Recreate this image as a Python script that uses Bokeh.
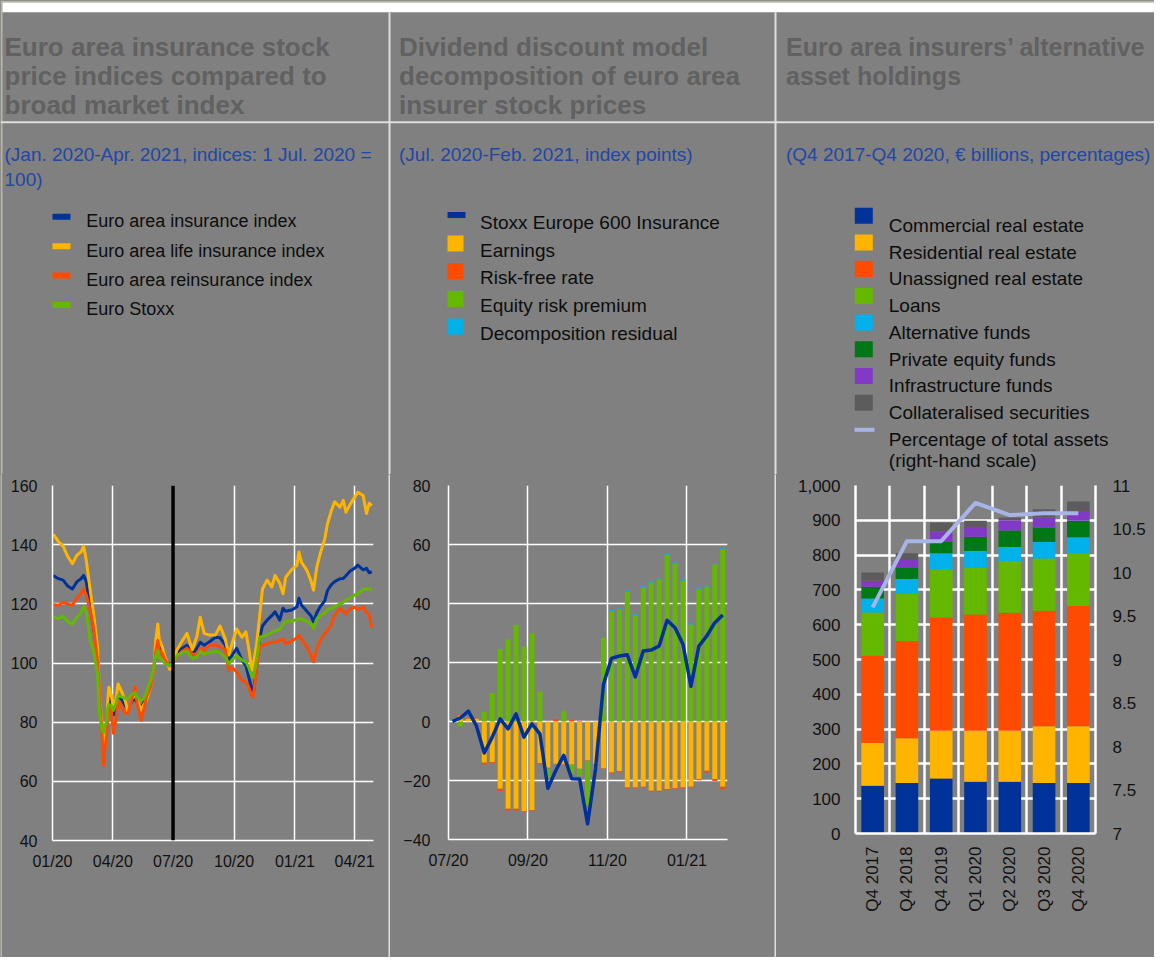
import math
import numpy as np
import pandas as pd
from bokeh.plotting import figure
from bokeh.layouts import row, column
from bokeh.models import (Range1d, LinearAxis, FixedTicker, DatetimeTickFormatter,
                          NumeralTickFormatter, Span, ColumnDataSource)
from bokeh.core.properties import value
from bokeh.embed import file_html
from bokeh.resources import INLINE

# ---------------------------------------------------------------- data: panel 1
p1_dates = [
    "2020-01-02", "2020-01-10", "2020-01-17", "2020-01-24", "2020-01-31", "2020-02-07", "2020-02-13",
    "2020-02-17", "2020-02-21", "2020-02-27", "2020-03-03", "2020-03-09", "2020-03-12", "2020-03-16",
    "2020-03-18", "2020-03-19", "2020-03-23", "2020-03-24", "2020-03-26", "2020-03-30", "2020-04-02",
    "2020-04-06", "2020-04-09", "2020-04-15", "2020-04-20", "2020-04-24", "2020-04-30", "2020-05-05",
    "2020-05-08", "2020-05-14", "2020-05-18", "2020-05-22", "2020-05-28", "2020-06-02", "2020-06-05",
    "2020-06-08", "2020-06-10", "2020-06-15", "2020-06-18", "2020-06-22", "2020-06-26", "2020-07-01",
    "2020-07-07", "2020-07-15", "2020-07-22", "2020-07-30", "2020-08-06", "2020-08-11", "2020-08-17",
    "2020-08-24",
    "2020-09-03", "2020-09-10", "2020-09-18", "2020-09-23", "2020-09-28", "2020-10-05", "2020-10-13",
    "2020-10-19", "2020-10-23", "2020-10-28", "2020-10-30", "2020-11-04", "2020-11-09", "2020-11-13",
    "2020-11-20", "2020-11-27", "2020-12-02", "2020-12-09", "2020-12-14", "2020-12-18", "2020-12-28",
    "2021-01-04", "2021-01-07", "2021-01-11", "2021-01-19", "2021-01-25", "2021-01-29", "2021-02-03",
    "2021-02-08", "2021-02-15", "2021-02-19", "2021-02-25", "2021-03-02", "2021-03-10", "2021-03-15",
    "2021-03-19", "2021-03-25", "2021-04-01", "2021-04-06", "2021-04-14", "2021-04-19", "2021-04-23",
    "2021-04-27",
]
p1_insurance = [
    129.6, 128.5, 128.0, 126.0, 125.0, 127.5, 128.5, 129.6, 127.5, 118.9, 112.1, 103.1, 88.5, 78.0,
    72.5, 74.0, 78.5, 84.5, 88.0, 86.0, 82.5, 85.5, 89.0, 87.5, 85.5, 84.5, 87.0, 88.0,
    86.5, 85.0, 86.5, 88.5, 92.5, 98.0, 105.0, 109.0, 106.0, 103.0, 102.0, 100.5, 99.5, 100.0,
    103.5, 105.0, 106.0, 103.0, 105.0, 107.0, 106.0, 107.0,
    108.7, 108.5, 106.0, 101.0, 102.5, 105.0, 101.0, 99.0, 95.5, 91.0, 89.6, 98.6, 108.7, 112.5,
    114.5, 116.0, 117.3, 114.5, 118.5, 117.5, 118.0, 119.0, 121.9, 119.5, 117.5, 116.0, 114.0, 117.0,
    119.0, 121.0, 124.5, 126.5, 127.5, 128.5, 128.6, 129.5, 131.0, 132.0, 133.1, 131.5, 132.0, 130.5,
    130.9,
]
p1_life = [
    143.6, 141.0, 139.5, 136.0, 133.6, 136.5, 137.5, 139.5, 134.7, 124.5, 116.6, 105.3, 89.6, 79.0,
    71.0, 72.0, 79.0, 86.0, 91.8, 89.0, 84.5, 88.0, 92.9, 90.0, 87.0, 83.5, 88.0, 89.0,
    87.5, 84.0, 86.0, 87.5, 91.8, 98.0, 108.0, 113.2, 108.0, 105.3, 102.5, 100.5, 97.8, 100.0,
    104.5, 107.5, 110.0, 104.5, 109.0, 115.5, 110.0, 109.5,
    109.5, 112.5, 108.0, 102.7, 106.5, 111.5, 108.7, 110.5, 105.3, 97.5, 99.5, 106.0, 116.6, 125.0,
    128.0, 125.7, 129.6, 127.0, 123.4, 129.0, 131.8, 133.0, 137.5, 134.0, 131.3, 127.9, 124.6, 132.4,
    136.9, 141.9, 147.0, 151.5, 154.5, 152.7, 155.0, 151.0, 153.5, 156.0, 157.7, 156.6, 150.5, 154.0,
    153.2,
]
p1_reinsurance = [
    119.8, 119.5, 120.5, 120.0, 119.5, 122.0, 123.5, 125.0, 123.0, 117.7, 112.1, 100.8, 89.6, 75.0,
    65.5, 69.0, 76.0, 82.0, 85.5, 83.5, 76.2, 81.0, 87.3, 85.0, 83.0, 82.9, 88.0, 92.0,
    86.0, 80.6, 84.5, 88.5, 91.8, 98.6, 104.0, 107.6, 104.5, 103.0, 101.5, 100.0, 99.0, 100.0,
    102.0, 104.0, 105.0, 103.0, 103.0, 105.0, 104.0, 106.0,
    106.0, 105.5, 104.5, 97.5, 98.5, 97.0, 94.1, 93.5, 92.0, 89.0, 88.5, 98.0, 105.3, 106.0,
    106.5, 107.0, 107.0, 107.6, 108.2, 106.5, 107.5, 108.5, 109.4, 108.0, 105.5, 102.7, 100.4, 104.8,
    107.6, 110.0, 111.0, 113.0, 116.2, 118.5, 117.5, 116.6, 118.3, 118.9, 118.0, 119.0, 117.0, 116.5,
    112.0,
]
p1_euro_stoxx = [
    115.5, 115.0, 115.8, 114.0, 113.0, 115.5, 117.0, 119.0, 117.5, 107.6, 104.2, 96.3, 82.9, 77.3,
    76.5, 78.0, 80.5, 84.5, 86.0, 85.5, 84.0, 86.5, 89.0, 88.5, 88.0, 88.0, 89.5, 90.0,
    88.5, 87.3, 88.0, 90.0, 94.1, 98.6, 102.5, 104.2, 102.0, 101.0, 100.0, 99.5, 99.1, 100.0,
    102.5, 103.5, 104.0, 101.5, 102.0, 104.0, 103.0, 103.5,
    104.0, 103.5, 102.0, 99.7, 101.0, 102.6, 101.0, 100.3, 98.6, 95.5, 95.2, 101.0, 108.7, 109.0,
    109.5, 110.3, 110.9, 111.5, 113.0, 114.0, 114.3, 114.5, 115.1, 114.8, 114.0, 113.2, 111.7, 114.9,
    116.0, 116.8, 118.0, 118.5, 119.0, 120.0, 120.5, 121.2, 121.9, 123.0, 123.4, 124.8, 125.1, 125.1,
    124.6,
]
p1_tick_dates = ["2020-01-01", "2020-04-01", "2020-07-01", "2020-10-01", "2021-01-01", "2021-04-01"]
p1_base_date = "2020-07-01"
p1_start, p1_end = "2020-01-01", "2021-04-29 14:00"
p1_yticks = [40, 60, 80, 100, 120, 140, 160]

# ---------------------------------------------------------------- data: panel 2
p2_obs = list(range(35))
p2_earnings = [0, 2.0, 0.9, 1.0, -14.0, -13.8, -22.8, -29.6, -29.6, -30.4, -30.1, -14.1, -15.7, -14.3,
               -14.6, -14.6, -16.0, -13.2, -14.5, -15.9, -17.3, -16.9, -22.4, -22.4, -22.1, -23.5,
               -23.5, -22.9, -22.6, -22.4, -22.1, -19.5, -16.7, -19.5, -22.1]
p2_risk_free = [0, 0.3, 0.2, 0.3, -0.6, -0.3, -0.8, -0.6, -0.6, -0.3, -0.2, -0.2, -0.2, 0.8, -0.2,
                0.6, 0.2, -0.2, -0.3, -0.2, -0.3, -0.3, -0.3, -0.3, -0.3, -0.3, -0.3, -0.3, -0.3,
                -0.3, -0.3, -0.4, -0.6, -0.7, -0.9]
p2_equity_premium = [0, -1.6, 0, 0, 3.2, 9.7, 24.6, 27.8, 32.7, 25.4, 29.9, 10.2, -3.2, 0, 3.5, -3.2,
                     -2.6, -15.0, -1.5, 28.4, 37.4, 38.0, 43.9, 36.2, 45.6, 47.2, 48.2, 56.5, 53.6,
                     47.8, 32.9, 45.0, 45.8, 53.3, 58.4]
p2_residual = [0, 0, 0, 0, 0, 0, 0, 0, 0, 0, 0, 0, 0, 0, 0, 0, 0, 0, 0, 0,
               0.4, 0.3, 0.5, 0.4, 0.4, 0.4, 0.3, 0.5, 0.3, 0.4, 0.4, 0.3, 0.2, 0.2, 0.3]
p2_stoxx_insurance = [0, 1.2, 3.5, -1.4, -10.7, -5.3, 0.9, -2.5, 2.6, -5.3, -0.8, -4.2, -22.6, -16.6,
                      -11.5, -19.4, -19.5, -34.7, -16.0, 12.6, 21.4, 22.2, 22.6, 15.1, 23.9, 24.2,
                      25.6, 34.3, 31.8, 26.2, 11.9, 25.6, 29.0, 33.5, 36.1]
p2_tick_pos = [-0.5, 9.5, 19.5, 29.5]
p2_tick_labels = ["07/20", "09/20", "11/20", "01/21"]
p2_yticks = [-40, -20, 0, 20, 40, 60, 80]

# ---------------------------------------------------------------- data: panel 3
p3_quarters = ["Q4 2017", "Q4 2018", "Q4 2019", "Q1 2020", "Q2 2020", "Q3 2020", "Q4 2020"]
p3_commercial = [137, 145, 158, 149, 149, 145, 145]
p3_residential = [123, 129, 137, 146, 146, 163, 163]
p3_unassigned = [251, 279, 326, 334, 339, 332, 346]
p3_loans = [124, 135, 136, 134, 149, 150, 151]
p3_alternative_funds = [40, 43, 48, 49, 40, 48, 46]
p3_private_equity = [34, 32, 33, 41, 48, 41, 48]
p3_infrastructure = [17, 23, 30, 28, 29, 29, 28]
p3_collateralised = [24, 19, 26, 18, 8, 24, 27]
p3_pct_total_assets = [9.60, 10.36, 10.36, 10.80, 10.66, 10.68, 10.68]
p3_yticks = [0, 100, 200, 300, 400, 500, 600, 700, 800, 900, 1000]
p3_rticks = [7, 7.5, 8, 8.5, 9, 9.5, 10, 10.5, 11]

# ---------------------------------------------------------------- styles / layout
BG = "#808080"
FONT = "Liberation Sans"
TICK_C = "#111111"
TITLE_C = "#616161"
SUB_C = "#2347a5"
LEG_C = "#0d0d0d"
DIV_C = "#dedede"
EDGE_C = "#b4b7a4"
BLUE, YELLOW, ORANGE, GREEN = "#003299", "#ffb400", "#ff4b00", "#65b800"
CYAN, DKGREEN, PURPLE, DGREY, LAVENDER = "#00b1ea", "#007816", "#8139c6", "#5c5c5c", "#a8b4e6"
TOTAL_W = 1154
TOTAL_H = 957
HEAD_H = 474
CHART_H = TOTAL_H - HEAD_H
TOP_B = 485 - HEAD_H
W0, W1, W2, W3 = 2, 386, 384, 378     # left edge strip + chart columns, separated by 2 px dividers
X1 = W0 + W1                           # divider 1 starts here
X2 = X1 + 2 + W2                       # divider 2 starts here
CSS = {"background-color": BG}


def prep(p):
    try:
        p.frame_align = False
    except Exception:
        pass
    p.styles = CSS
    return p


# ---------------------------------------------------------------- header (titles, legends)
head = prep(figure(width=TOTAL_W, height=HEAD_H, x_range=Range1d(0, TOTAL_W),
                   y_range=Range1d(HEAD_H, 0), min_border=0, toolbar_location=None,
                   output_backend="svg", background_fill_color=BG, border_fill_color=BG,
                   outline_line_color=None, x_axis_location=None, y_axis_location=None))
head.grid.visible = False
head.quad(left=[0, 0, W0, 0, X1, X2], right=[TOTAL_W, W0, TOTAL_W, TOTAL_W, X1 + 2, X2 + 2],
          top=[0, 0, 2, 120.7, 11.7, 11.7], bottom=[2, HEAD_H, 11.7, 122.7, HEAD_H, HEAD_H],
          fill_color=[EDGE_C, EDGE_C, "white", DIV_C, DIV_C, DIV_C], line_color=None)


def htext(xs, ys, texts, size, color, bold=False):
    head.text(x=xs, y=ys, text=texts, text_font=value(FONT), text_font_size=value(size),
              text_font_style=value("bold" if bold else "normal"), text_color=color,
              text_baseline=value("alphabetic"), text_align=value("left"))


def hbox(x0, x1, y0, y1, color):
    head.quad(left=[x0], right=[x1], top=[y0], bottom=[y1], fill_color=color, line_color=None)


def header_titles(X, title_lines, sub_lines, tsize="26px"):
    htext([X] * len(title_lines), [46 + 29 * i for i in range(len(title_lines))],
          title_lines, tsize, TITLE_C, bold=True)
    htext([X] * len(sub_lines), [154 + 25 * i for i in range(len(sub_lines))],
          sub_lines, "19px", SUB_C)


def make_strip(width, color):
    d = prep(figure(width=width, height=CHART_H, x_range=Range1d(0, 1), y_range=Range1d(0, 1),
                    min_border=0, toolbar_location=None, output_backend="svg",
                    background_fill_color=color, border_fill_color=color,
                    outline_line_color=None, x_axis_location=None, y_axis_location=None))
    d.grid.visible = False
    return d


def make_chart(width, b_left, b_right, b_bottom, x_range, y_range, **kw):
    return prep(figure(width=width, height=CHART_H, x_range=x_range, y_range=y_range,
                       min_border_left=b_left, min_border_right=b_right, min_border_top=TOP_B,
                       min_border_bottom=b_bottom, toolbar_location=None, output_backend="svg",
                       background_fill_color=BG, border_fill_color=BG, outline_line_color=None,
                       **kw))


def style_axes(p, size, grid_w, axis_w):
    for ax in p.axis:
        ax.axis_line_color = "white"
        ax.axis_line_width = axis_w
        ax.major_tick_line_color = None
        ax.minor_tick_line_color = None
        ax.major_tick_out = 0
        ax.major_tick_in = 0
        ax.minor_tick_out = 0
        ax.minor_tick_in = 0
        ax.major_label_text_font = FONT
        ax.major_label_text_font_size = size
        ax.major_label_text_color = TICK_C
    for gr in p.grid:
        gr.grid_line_color = "white"
        gr.grid_line_width = grid_w


# ================================================================ panel 1
header_titles(4, ["Euro area insurance stock", "price indices compared to", "broad market index"],
              ["(Jan. 2020-Apr. 2021, indices: 1 Jul. 2020 =", "100)"])
p1_series = [("Euro area insurance index", p1_insurance, BLUE),
             ("Euro area life insurance index", p1_life, YELLOW),
             ("Euro area reinsurance index", p1_reinsurance, ORANGE),
             ("Euro Stoxx", p1_euro_stoxx, GREEN)]
for i, (name, vals, col) in enumerate(p1_series):
    yc = 216.3 + 29.4 * i
    hbox(52, 70, yc - 3, yc + 3, col)
htext([85.8] * 4, [216.3 + 29.4 * i + 4.4 for i in range(4)], [s[0] for s in p1_series],
      "18px", LEG_C)

d1 = pd.to_datetime(p1_dates)
p1 = make_chart(W1, 52 - W0, 15, 117, Range1d(pd.Timestamp(p1_start), pd.Timestamp(p1_end)),
                Range1d(p1_yticks[0], p1_yticks[-1]), x_axis_type="datetime")
tick_ms = [pd.Timestamp(d).timestamp() * 1000 for d in p1_tick_dates]
p1.xaxis.ticker = FixedTicker(ticks=tick_ms)
p1.xgrid.ticker = FixedTicker(ticks=tick_ms)
p1.xaxis.formatter = DatetimeTickFormatter(days="%m/%y", months="%m/%y", years="%m/%y")
p1.yaxis.ticker = FixedTicker(ticks=p1_yticks)
p1.ygrid.ticker = FixedTicker(ticks=p1_yticks)
style_axes(p1, "16px", 1.5, 1.5)
p1.yaxis.major_label_standoff = 15
p1.xaxis.major_label_standoff = 12
for name, vals, col in p1_series:
    p1.line(d1, vals, line_color=col, line_width=3, line_join="round")
p1.add_layout(Span(location=pd.Timestamp(p1_base_date).timestamp() * 1000, dimension="height",
                   line_color="black", line_width=3.5))

# ================================================================ panel 2
header_titles(398.5, ["Dividend discount model", "decomposition of euro area", "insurer stock prices"],
              ["(Jul. 2020-Feb. 2021, index points)"])
p2_components = [("Earnings", p2_earnings, YELLOW),
                 ("Risk-free rate", p2_risk_free, ORANGE),
                 ("Equity risk premium", p2_equity_premium, GREEN),
                 ("Decomposition residual", p2_residual, CYAN)]
hbox(447, 465, 211.5, 217.5, BLUE)
for i, (name, vals, col) in enumerate(p2_components):
    yt = 235 + 27.7 * i
    hbox(447, 463, yt, yt + 16, col)
htext([479.5] * 5, [221.7] + [249.5 + 27.7 * i for i in range(4)],
      ["Stoxx Europe 600 Insurance"] + [c[0] for c in p2_components], "19px", LEG_C)

p2 = make_chart(W2, 58, 47, 118, Range1d(-0.5, 34.6), Range1d(p2_yticks[0], p2_yticks[-1]))
p2.xaxis.ticker = FixedTicker(ticks=p2_tick_pos)
p2.xgrid.ticker = FixedTicker(ticks=p2_tick_pos)
p2.xaxis.major_label_overrides = dict(zip(p2_tick_pos, p2_tick_labels))
p2.yaxis.ticker = FixedTicker(ticks=p2_yticks)
p2.ygrid.ticker = FixedTicker(ticks=p2_yticks)
style_axes(p2, "16px", 1.5, 1.5)
p2.yaxis.major_label_standoff = 18
p2.xaxis.major_label_standoff = 12
pos = np.zeros(len(p2_obs))
neg = np.zeros(len(p2_obs))
for name, vals, col in p2_components:
    v = np.asarray(vals, dtype=float)
    bottom = np.where(v >= 0, pos, neg)
    top = bottom + v
    pos = np.where(v >= 0, top, pos)
    neg = np.where(v < 0, top, neg)
    p2.vbar(x=p2_obs, bottom=bottom, top=top, width=0.62, fill_color=col, line_color=None)
p2.line(p2_obs, p2_stoxx_insurance, line_color=BLUE, line_width=3.5, line_join="round")

# ================================================================ panel 3
header_titles(785.5, ["Euro area insurers\u2019 alternative", "asset holdings"],
              ["(Q4 2017-Q4 2020, \u20ac billions, percentages)"], tsize="25px")
p3_components = [("Commercial real estate", p3_commercial, BLUE),
                 ("Residential real estate", p3_residential, YELLOW),
                 ("Unassigned real estate", p3_unassigned, ORANGE),
                 ("Loans", p3_loans, GREEN),
                 ("Alternative funds", p3_alternative_funds, CYAN),
                 ("Private equity funds", p3_private_equity, DKGREEN),
                 ("Infrastructure funds", p3_infrastructure, PURPLE),
                 ("Collateralised securities", p3_collateralised, DGREY)]
for i, (name, vals, col) in enumerate(p3_components):
    yt = 207.3 + 26.7 * i
    hbox(854.3, 872.3, yt, yt + 16, col)
hbox(854, 874, 427.3, 431.3, LAVENDER)
htext([888.3] * 10, [225 + 26.7 * i for i in range(9)] + [459.5],
      [c[0] for c in p3_components] + ["Percentage of total assets", "(right-hand scale)"],
      "19px", LEG_C)

n3 = len(p3_quarters)
p3 = make_chart(W3, 79, 59, 124, Range1d(0, n3), Range1d(p3_yticks[0], p3_yticks[-1]))
p3.extra_y_ranges = {"pct": Range1d(p3_rticks[0], p3_rticks[-1])}
p3.add_layout(LinearAxis(y_range_name="pct", ticker=FixedTicker(ticks=p3_rticks),
                         formatter=NumeralTickFormatter(format="0.[0]")), "right")
xc = [i + 0.5 for i in range(n3)]
p3.xaxis.ticker = FixedTicker(ticks=xc)
p3.xaxis.major_label_overrides = dict(zip(xc, p3_quarters))
p3.xaxis.major_label_orientation = math.pi / 2
p3.xgrid.ticker = FixedTicker(ticks=list(range(n3 + 1)))
p3.yaxis[0].ticker = FixedTicker(ticks=p3_yticks)
p3.yaxis[0].formatter = NumeralTickFormatter(format="0,0")
p3.ygrid.ticker = FixedTicker(ticks=p3_yticks)
style_axes(p3, "17px", 2.5, 2.5)
p3.yaxis[0].major_label_standoff = 15
p3.yaxis[1].major_label_standoff = 17
p3.xaxis.major_label_standoff = 13
src3 = {"x": xc}
keys3 = []
for k, (name, vals, col) in enumerate(p3_components):
    src3["s%d" % k] = vals
    keys3.append("s%d" % k)
p3.vbar_stack(keys3, x="x", width=0.66, color=[c for _, _, c in p3_components],
              line_color=None, source=ColumnDataSource(src3))
p3.line(xc, p3_pct_total_assets, y_range_name="pct", line_color=LAVENDER, line_width=4,
        line_join="round")

charts = row(make_strip(W0, EDGE_C), column(p1), make_strip(2, DIV_C), column(p2),
             make_strip(2, DIV_C), column(p3))
layout = column(head, charts)
for obj in (charts, layout):
    obj.styles = CSS
open("out.html", "w").write(file_html(layout, INLINE))
